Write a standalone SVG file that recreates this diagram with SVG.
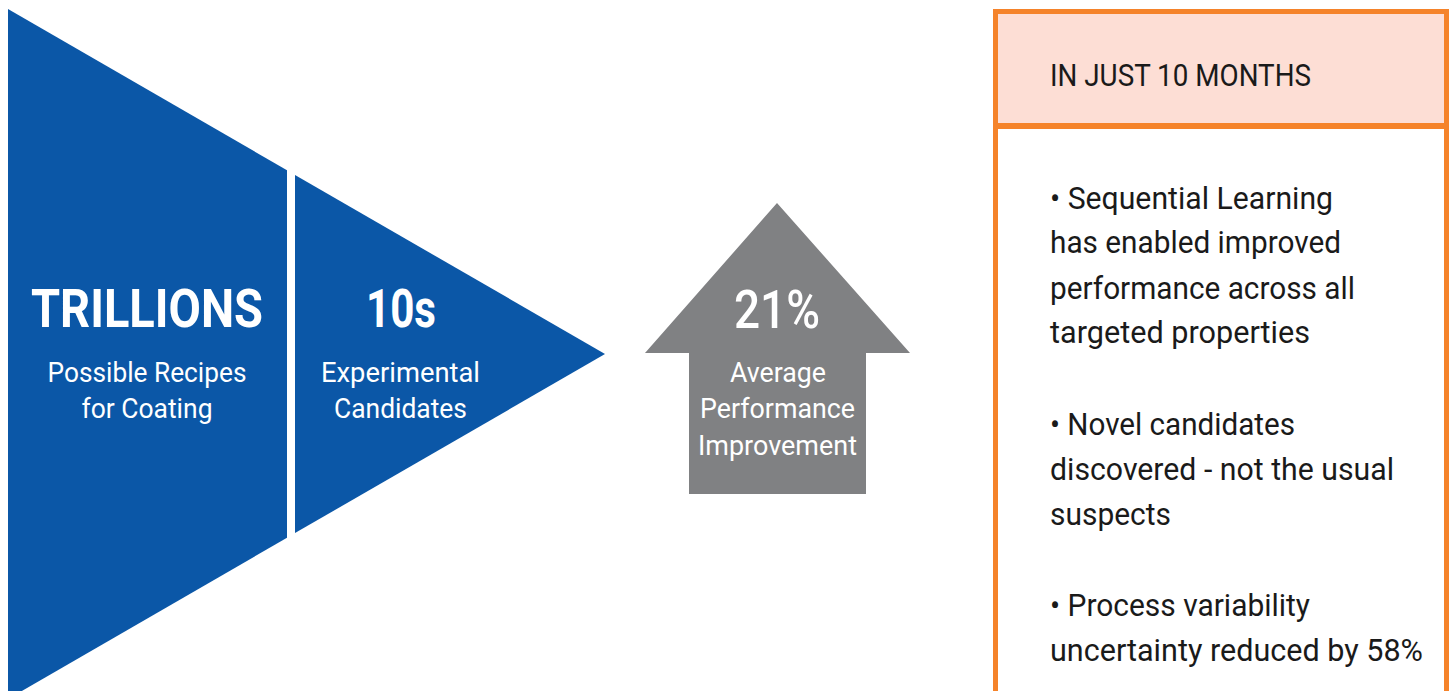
<svg xmlns="http://www.w3.org/2000/svg" width="1450" height="691" viewBox="0 0 1450 691">
<style>
.blue{fill:#0B57A7}
.grey{fill:#808183}
.big{font-family:Roboto,"Liberation Sans",sans-serif;font-weight:700;font-size:54px;fill:#fff;text-anchor:middle}
.sub{font-family:Roboto,"Liberation Sans",sans-serif;font-size:27px;fill:#fff;text-anchor:middle}
.box{font-family:Roboto,"Liberation Sans",sans-serif;font-size:31px;fill:#1a1a1a}
</style>
<rect width="1450" height="691" fill="#fff"/>
<g id="trillions">
<polygon class="blue" points="8,9 287,170.2 287,537.8 8,699"/>
<text class="big" x="147" y="327" textLength="232" lengthAdjust="spacingAndGlyphs">TRILLIONS</text>
<text class="sub" x="147" y="382" textLength="199" lengthAdjust="spacingAndGlyphs">Possible Recipes</text>
<text class="sub" x="147" y="418" textLength="131" lengthAdjust="spacingAndGlyphs">for Coating</text>
</g>
<g id="tens">
<polygon class="blue" points="295,174.9 605,354 295,533.1"/>
<text class="big" x="401" y="327" textLength="70" lengthAdjust="spacingAndGlyphs">10s</text>
<text class="sub" x="400.5" y="382" textLength="159" lengthAdjust="spacingAndGlyphs">Experimental</text>
<text class="sub" x="400.5" y="418" textLength="133" lengthAdjust="spacingAndGlyphs">Candidates</text>
</g>
<g id="improvement">
<polygon class="grey" points="777,203 910,353 866,353 866,494 689,494 689,353 645,353"/>
<text class="big" x="777" y="328" textLength="86" lengthAdjust="spacingAndGlyphs" style="font-weight:500">21%</text>
<text class="sub" x="778" y="382" textLength="96" lengthAdjust="spacingAndGlyphs">Average</text>
<text class="sub" x="777.5" y="418" textLength="155" lengthAdjust="spacingAndGlyphs">Performance</text>
<text class="sub" x="777.5" y="455" textLength="159" lengthAdjust="spacingAndGlyphs">Improvement</text>
</g>
<g id="summary">
<rect x="998" y="14" width="446" height="109" fill="#FDDED5"/>
<rect x="995.5" y="11.5" width="451" height="720" fill="none" stroke="#F5832A" stroke-width="5"/>
<line x1="993" y1="126" x2="1449" y2="126" stroke="#F5832A" stroke-width="6"/>
<text class="box" x="1050" y="86" textLength="261" lengthAdjust="spacingAndGlyphs">IN JUST 10 MONTHS</text>
<text class="box" x="1050" y="209" textLength="283" lengthAdjust="spacingAndGlyphs">• Sequential Learning</text>
<text class="box" x="1050" y="253" textLength="291" lengthAdjust="spacingAndGlyphs">has enabled improved</text>
<text class="box" x="1050" y="299" textLength="305" lengthAdjust="spacingAndGlyphs">performance across all</text>
<text class="box" x="1050" y="343" textLength="260" lengthAdjust="spacingAndGlyphs">targeted properties</text>
<text class="box" x="1050" y="435" textLength="245" lengthAdjust="spacingAndGlyphs">• Novel candidates</text>
<text class="box" x="1050" y="480" textLength="344" lengthAdjust="spacingAndGlyphs">discovered - not the usual</text>
<text class="box" x="1050" y="525" textLength="121" lengthAdjust="spacingAndGlyphs">suspects</text>
<text class="box" x="1050" y="616" textLength="260" lengthAdjust="spacingAndGlyphs">• Process variability</text>
<text class="box" x="1050" y="661" textLength="373" lengthAdjust="spacingAndGlyphs">uncertainty reduced by 58%</text>
</g>
<g id="connectors"></g>
</svg>
